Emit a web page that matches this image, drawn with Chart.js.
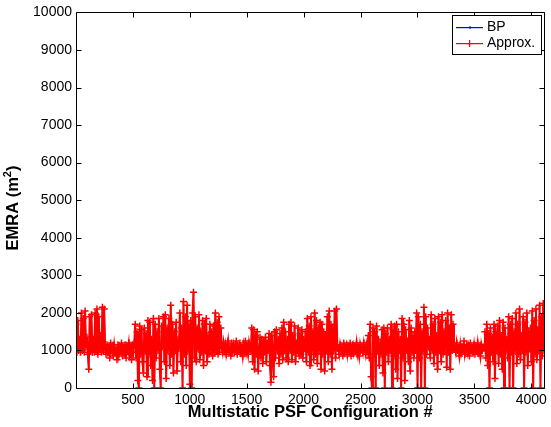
<!DOCTYPE html>
<html>
<head>
<meta charset="utf-8">
<style>
  html, body { margin: 0; padding: 0; background: #fff; }
  #wrap { width: 551px; height: 427px; }
</style>
</head>
<body>
<div id="wrap"><canvas id="emraChart" width="551" height="427"></canvas></div>

<script src="https://cdn.jsdelivr.net/npm/chart.js"></script>
<script>
// Configurations are sampled every 8th index, starting at #1
const firstConfig = 1;
const configStep = 8;

// EMRA values (m^2), one block per region of the sweep
const oscA = [1700, 950, 1800, 1000, 1300, 950, 2000, 1000, 1850, 950, 2050, 1100, 1350, 900, 500, 1900,
  1000, 1950, 950, 1300, 950, 2000, 1000, 2100, 900, 1900, 1050, 1400, 950, 2150, 1000, 2100];
const calmB = [1100, 900, 1150, 950, 1050, 800, 1200, 1000, 1100, 850, 1150, 950, 1000, 750, 1150, 900,
  1100, 1000, 1200, 850, 1050, 950, 1150, 800, 1100, 1000, 1200, 900, 1050, 750, 1150, 950];
const oscC = [1200, 1700, 800, 1500, 200, 0, 1650, 900, 1550, 700, 400, 1600, 1000, 1450, 300, 1800,
  900, 1750, 600, 1300, 200, 1850, 0, 1700, 800, 1500, 1000, 1850, 500, 0, 1650, 1100,
  1900, 700, 1950, 250, 1600, 1000, 1850, 600, 2200, 900, 1700, 400, 1500, 1000, 1750, 450,
  1300, 1050, 2000, 700, 1600, 0, 2300, 900, 1900, 600, 2200, 1000, 1700, 100, 1800, 0,
  2000, 2550, 800, 1900, 700, 1600, 1050, 1950, 750, 1500, 950, 1800, 600, 1700, 1000, 1850,
  700, 1400, 900, 1700, 1000, 1500, 850, 1650, 950, 2000, 1000, 1750, 900, 1900, 1050, 1600];
const calmD = [1100, 950, 1200, 1000, 1150, 900, 1050, 1250, 950, 1100, 850, 1200, 1000, 1150, 950, 1050,
  1250, 900, 1100, 1000, 1200, 950, 1050, 850, 1150, 1000, 1250, 950, 1100, 900, 1200, 1050];
const oscE = [1000, 1600, 700, 1550, 500, 1400, 900, 1500, 450, 1100, 1350, 800, 1300, 650, 1250, 950,
  1350, 700, 1200, 1000, 1450, 600, 150, 1400, 900, 300, 1500, 800, 1550, 1000, 1300, 650,
  1450, 900, 1600, 750, 1750, 1000, 1500, 800, 1300, 700, 1700, 1000, 1750, 750, 1400, 950,
  1650, 700, 1200, 1000, 1600, 850, 1450, 900, 1550, 800, 1300, 1050, 1500, 700, 1850, 950,
  1650, 600, 1900, 1000, 1500, 750, 2000, 900, 1800, 650, 1600, 1000, 1750, 500, 1700, 900,
  1500, 450, 1400, 1000, 1900, 700, 2050, 900, 1700, 500, 1600, 1000, 2050, 800, 2100, 1050];
const calmF = [1050, 900, 1150, 1000, 1100, 850, 1200, 950, 1050, 1150, 900, 1100, 1000, 1200, 850, 1050,
  1150, 950, 1100, 1000, 1200, 900, 1050, 850, 1150, 1000, 1100, 950, 1200, 1050, 900, 1150];
const oscG = [1000, 1400, 800, 1700, 300, 0, 1600, 900, 1500, 0, 1650, 1000, 1300, 600, 1200, 900,
  1550, 400, 1600, 0, 1450, 950, 1600, 700, 1300, 1000, 1700, 0, 1550, 850, 1650, 500,
  1700, 250, 1500, 1000, 1300, 0, 1850, 800, 1700, 200, 1550, 1000, 1250, 700, 1800, 450,
  1600, 950, 1400, 800, 1500, 1000, 2000, 0, 1900, 800, 1700, 0, 1500, 1000, 2150, 0,
  1900, 900, 1600, 1100, 1300, 800, 1950, 1000, 1700, 650, 1850, 950, 1400, 500, 1900, 1000,
  1750, 700, 1950, 900, 1500, 1050, 1800, 550, 2000, 950, 1600, 500, 1950, 1000, 1700, 1050];
const calmH = [1100, 950, 1200, 1000, 1050, 850, 1150, 950, 1100, 1000, 1250, 900, 1050, 1150, 950, 1100,
  850, 1200, 1000, 1050, 950, 1150, 900, 1100, 1000, 1200, 950, 1050, 850, 1150, 1000, 1100];
const oscI = [1050, 1500, 800, 1700, 600, 1450, 0, 1600, 950, 1350, 700, 1700, 250, 1500, 1000, 1650,
  650, 1800, 900, 1400, 500, 1750, 0, 1600, 1000, 1300, 800, 1900, 0, 1700, 950, 1850,
  0, 1500, 1000, 2000, 650, 1700, 900, 2100, 750, 1400, 1000, 1900, 0, 1750, 950, 2000,
  600, 1500, 1050, 1600, 700, 2050, 0, 1800, 900, 2100, 750, 1550, 1000, 2200, 0, 1900,
  850, 2250, 1000];

const emraApprox = [].concat(oscA, calmB, oscC, calmD, oscE, calmF, oscG, calmH, oscI);
const emraBP = emraApprox; // BP lies under the approximation everywhere

const xTicks = [500, 1000, 1500, 2000, 2500, 3000, 3500, 4000];
const yTicks = [0, 1000, 2000, 3000, 4000, 5000, 6000, 7000, 8000, 9000, 10000];

const toPoints = arr => arr.map((v, i) => ({ x: firstConfig + i * configStep, y: v }));

const FONT = "'Liberation Sans', Arial, Helvetica, sans-serif";

// MATLAB style box with inward ticks on all four sides
const axesBox = {
    id: 'axesBox',
    afterDatasetsDraw(chart) {
        const { ctx, chartArea: a, scales } = chart;
        const L = Math.round(a.left) + 0.5, R = Math.round(a.right) + 0.5;
        const T = Math.round(a.top) + 0.5, B = Math.round(a.bottom) + 0.5;
        const len = 5;
        ctx.save();
        ctx.strokeStyle = '#000';
        ctx.lineWidth = 1;
        ctx.beginPath();
        ctx.rect(L, T, R - L, B - T);
        xTicks.forEach(v => {
            const px = Math.round(scales.x.getPixelForValue(v)) + 0.5;
            ctx.moveTo(px, B); ctx.lineTo(px, B - len);
            ctx.moveTo(px, T); ctx.lineTo(px, T + len);
        });
        yTicks.forEach(v => {
            const py = Math.round(scales.y.getPixelForValue(v)) + 0.5;
            ctx.moveTo(L, py); ctx.lineTo(L + len, py);
            ctx.moveTo(R, py); ctx.lineTo(R - len, py);
        });
        ctx.stroke();

        // y axis title, with a raised superscript like the TeX label
        const main = 'EMRA (m', sup = '2', close = ')';
        const big = 'bold 16.5px ' + FONT, small = 'bold 11px ' + FONT;
        ctx.font = big;
        const w1 = ctx.measureText(main).width, w3 = ctx.measureText(close).width;
        ctx.font = small;
        const w2 = ctx.measureText(sup).width;
        const total = w1 + w2 + w3;
        ctx.translate(18, 208);
        ctx.rotate(-Math.PI / 2);
        ctx.fillStyle = '#000';
        ctx.textBaseline = 'alphabetic';
        ctx.textAlign = 'left';
        let x0 = -total / 2;
        ctx.font = big;
        ctx.fillText(main, x0, 0);
        ctx.font = small;
        ctx.fillText(sup, x0 + w1, -7);
        ctx.font = big;
        ctx.fillText(close, x0 + w1 + w2, 0);
        ctx.restore();
    }
};

// legend box in the upper right corner
const boxLegend = {
    id: 'boxLegend',
    afterDraw(chart) {
        const c = chart.ctx;
        const bx = 452.5, by = 15.5, bw = 89, bh = 39;
        c.save();
        c.fillStyle = '#fff';
        c.fillRect(bx, by, bw, bh);
        c.strokeStyle = '#000';
        c.lineWidth = 1;
        c.strokeRect(bx, by, bw, bh);

        const rows = [
            { label: 'BP', color: '#0000ff', y: 27, mark: 'dot' },
            { label: 'Approx.', color: '#ff0000', y: 43, mark: 'cross' }
        ];
        rows.forEach(r => {
            c.fillStyle = r.color;
            c.fillRect(456, r.y, 27, 1.2);
            if (r.mark === 'cross') {
                c.fillRect(469, r.y - 3, 1.2, 7);
                c.fillRect(466, r.y, 7, 1.2);
            } else {
                c.fillRect(469, r.y - 0.5, 2, 2);
            }
            c.fillStyle = '#000';
            c.font = '14px ' + FONT;
            c.textBaseline = 'middle';
            c.textAlign = 'left';
            c.fillText(r.label, 487, r.y + 0.5);
        });
        c.restore();
    }
};

const ctx = document.getElementById('emraChart').getContext('2d');
new Chart(ctx, {
    type: 'line',
    data: {
        datasets: [
            {
                label: 'BP',
                data: toPoints(emraBP),
                borderColor: '#0000ff',
                borderWidth: 0.8,
                pointRadius: 0,
                tension: 0,
                fill: false,
                order: 1
            },
            {
                label: 'Approx.',
                data: toPoints(emraApprox),
                borderColor: '#ff0000',
                borderWidth: 2,
                pointStyle: 'cross',
                pointRadius: 3.5,
                pointBorderColor: '#ff0000',
                pointBorderWidth: 1.5,
                tension: 0,
                fill: false,
                order: 0
            }
        ]
    },
    options: {
        responsive: false,
        animation: false,
        layout: { padding: { top: 12, right: 5, left: 0, bottom: 0 } },
        plugins: {
            legend: { display: false },
            tooltip: { enabled: false }
        },
        scales: {
            x: {
                type: 'linear',
                min: 1,
                max: 4116,
                afterBuildTicks: s => { s.ticks = xTicks.map(v => ({ value: v })); },
                afterFit: s => { s.height = 39; },
                grid: { display: false, drawTicks: false },
                border: { display: false },
                ticks: {
                    color: '#000',
                    padding: 4,
                    maxRotation: 0,
                    font: { family: FONT, size: 14 },
                    callback: v => String(v)
                },
                title: {
                    display: true,
                    text: 'Multistatic PSF Configuration #',
                    color: '#000',
                    font: { family: FONT, size: 16.5, weight: 'bold' },
                    padding: { top: 0, bottom: 5 }
                }
            },
            y: {
                min: 0,
                max: 10000,
                afterBuildTicks: s => { s.ticks = yTicks.map(v => ({ value: v })); },
                afterFit: s => { s.width = 76; },
                grid: { display: false, drawTicks: false },
                border: { display: false },
                ticks: {
                    color: '#000',
                    padding: 4,
                    font: { family: FONT, size: 14 },
                    callback: v => String(v)
                }
            }
        }
    },
    plugins: [axesBox, boxLegend]
});
</script>
</body>
</html>
